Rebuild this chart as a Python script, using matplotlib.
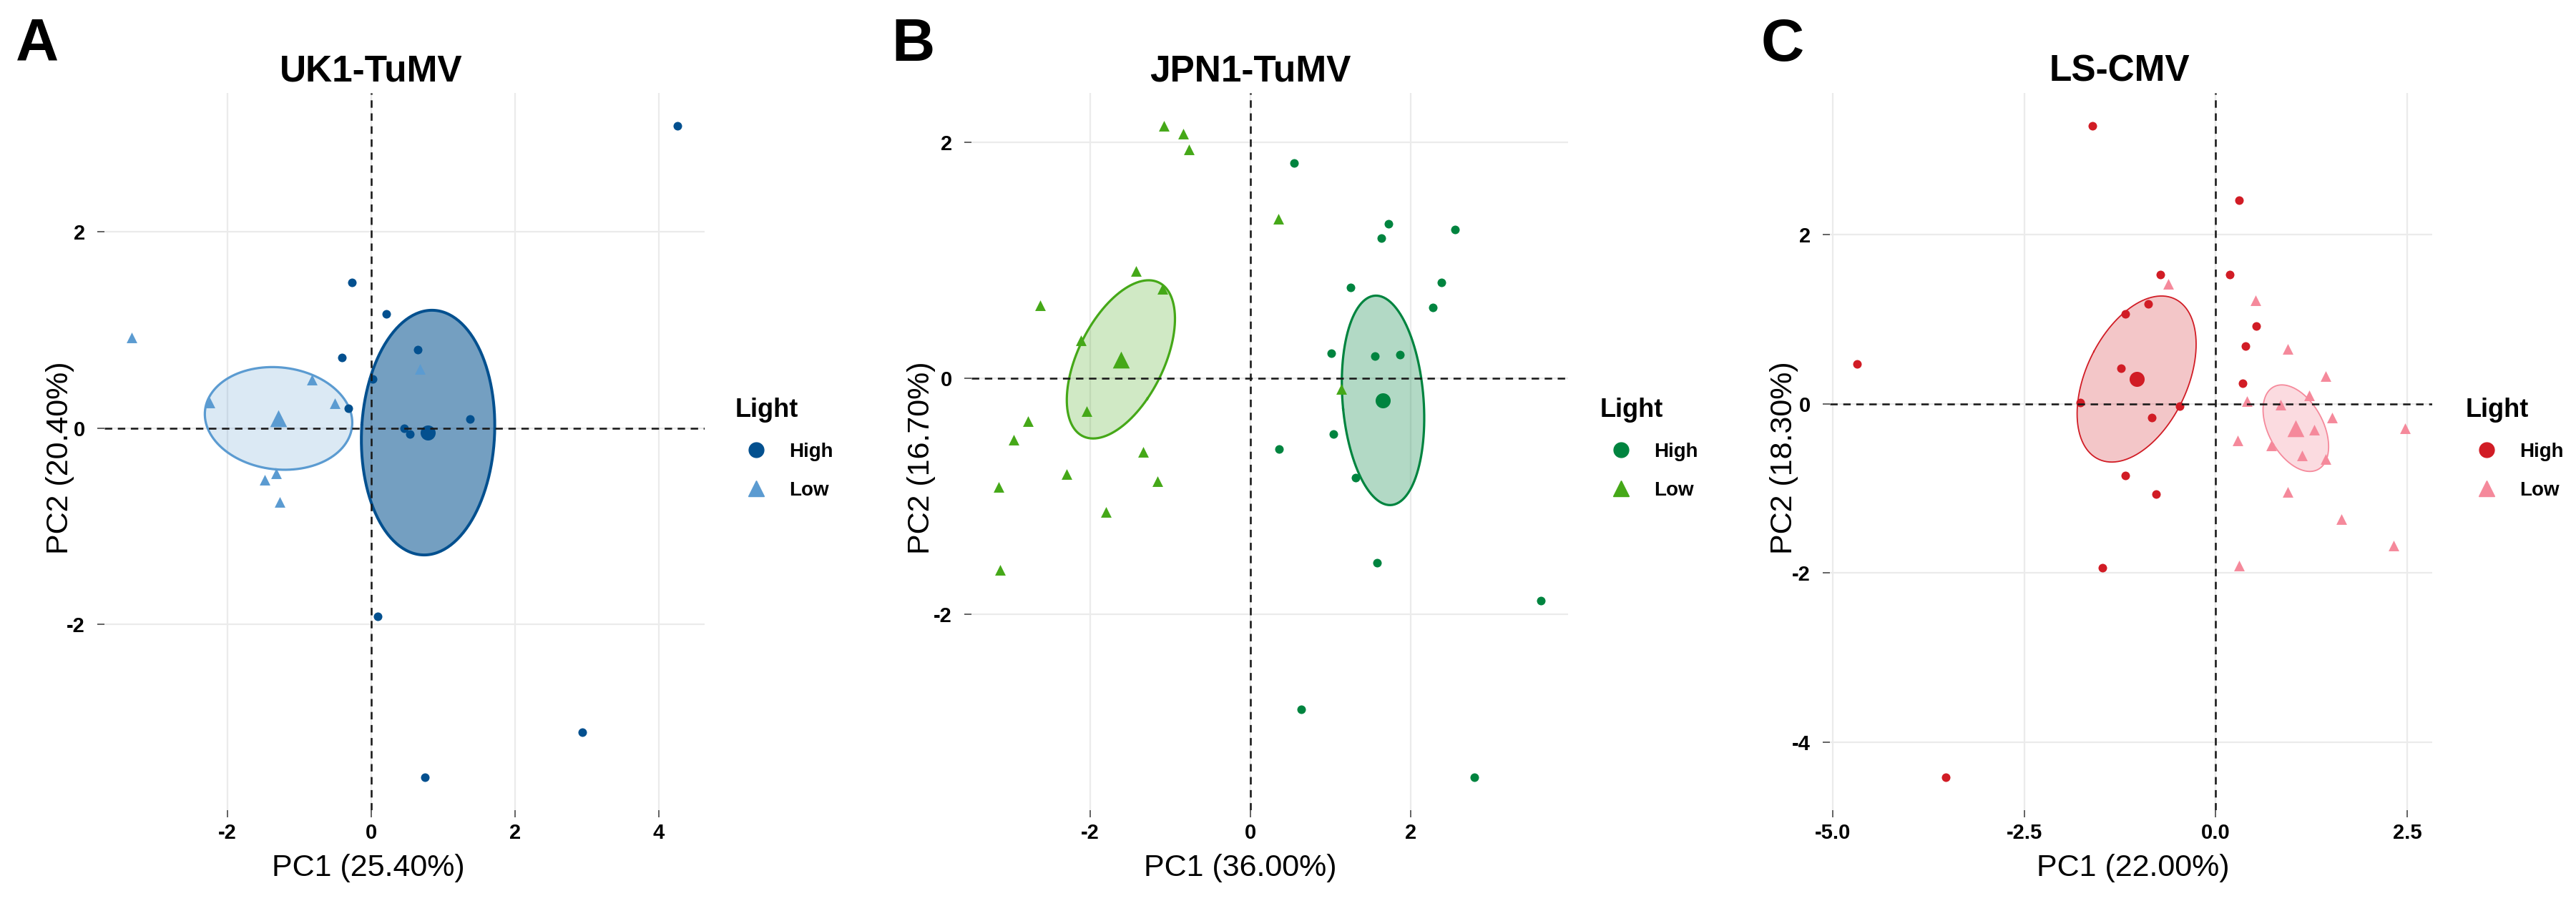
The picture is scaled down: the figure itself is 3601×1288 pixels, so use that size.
import numpy as np
import matplotlib
matplotlib.use("Agg")
import matplotlib.pyplot as plt
from matplotlib.lines import Line2D

plt.rcParams['font.family'] = ['Liberation Sans', 'DejaVu Sans']
plt.rcParams['axes.unicode_minus'] = False

# PCA scores
uk_high_x = [4.26, -0.27, 0.21, -0.41, 0.65, -0.32, 0.02, 0.46, 0.54, 1.38, 0.09, 2.94, 0.75]
uk_high_y = [3.08, 1.48, 1.16, 0.72, 0.80, 0.20, 0.50, 0.00, -0.06, 0.09, -1.92, -3.10, -3.56]
uk_low_x = [-3.33, -0.82, -2.25, -0.51, 0.68, -1.48, -1.32, -1.27]
uk_low_y = [0.92, 0.49, 0.26, 0.25, 0.60, -0.53, -0.46, -0.75]

jp_high_x = [0.54, 1.72, 1.63, 2.55, 1.25, 2.38, 2.27, 1.01, 1.55, 1.86, 1.03, 0.36, 1.31, 1.58, 3.62, 0.63, 2.79]
jp_high_y = [1.82, 1.31, 1.19, 1.26, 0.77, 0.81, 0.60, 0.21, 0.19, 0.20, -0.47, -0.60, -0.84, -1.56, -1.88, -2.80, -3.38]
jp_low_x = [-1.08, -0.84, -0.77, 0.35, -1.43, -2.62, -1.10, -2.11, 1.13, -2.04, -2.77, -2.95, -1.34, -2.29, -1.16, -3.14, -1.80, -3.12]
jp_low_y = [2.14, 2.07, 1.94, 1.35, 0.91, 0.62, 0.76, 0.32, -0.09, -0.28, -0.36, -0.52, -0.62, -0.81, -0.87, -0.92, -1.13, -1.62]

ls_high_x = [-1.61, 0.31, 0.18, -0.72, -0.88, -1.18, 0.53, 0.39, -4.68, -1.24, 0.35, -1.77, -0.47, -0.83, -1.18, -0.78, -1.48, -3.52]
ls_high_y = [3.29, 2.41, 1.53, 1.53, 1.18, 1.06, 0.92, 0.68, 0.47, 0.42, 0.24, 0.01, -0.03, -0.16, -0.85, -1.07, -1.94, -4.42]
ls_low_x = [-0.62, 0.52, 0.94, 1.44, 1.22, 0.41, 0.85, 1.52, 2.47, 1.29, 0.29, 0.73, 1.13, 1.44, 0.94, 1.64, 2.32, 0.31]
ls_low_y = [1.42, 1.22, 0.65, 0.33, 0.10, 0.03, -0.01, -0.16, -0.29, -0.31, -0.43, -0.49, -0.61, -0.65, -1.04, -1.36, -1.68, -1.91]

titles = ["UK1-TuMV", "JPN1-TuMV", "LS-CMV"]
letters = ["A", "B", "C"]
pc1_labels = ["PC1 (25.40%)", "PC1 (36.00%)", "PC1 (22.00%)"]
pc2_labels = ["PC2 (20.40%)", "PC2 (16.70%)", "PC2 (18.30%)"]
x_ticks = [[-2, 0, 2, 4], [-2, 0, 2], [-5.0, -2.5, 0.0, 2.5]]
x_ticklabels = [["-2", "0", "2", "4"], ["-2", "0", "2"], ["-5.0", "-2.5", "0.0", "2.5"]]
y_ticks = [[-2, 0, 2], [-2, 0, 2], [-4, -2, 0, 2]]
groups = ["High", "Low"]

W, H = 3601, 1288
fig = plt.figure(figsize=(W / 100, H / 100), dpi=100)


def px(v):
    return v * 0.72


def conf_ellipse(x, y, n=240):
    # 95% confidence ellipse of the group mean
    x = np.asarray(x); y = np.asarray(y)
    cov = np.cov(x, y) / len(x)
    vals, vecs = np.linalg.eigh(cov)
    t = np.linspace(0, 2 * np.pi, n)
    circ = np.vstack([np.cos(t), np.sin(t)]) * np.sqrt(vals * 5.991)[:, None]
    pts = vecs @ circ
    return pts[0] + x.mean(), pts[1] + y.mean()


panels = [
    dict(data=[(uk_high_x, uk_high_y), (uk_low_x, uk_low_y)],
         colors=['#03508f', '#5b9bd1'], alphas=[0.55, 0.22], ew=[4.0, 3.2],
         rect=(146, 130, 985, 1133), title_x=519, letter_x=22, xlab_x=515, ylab_x=84, leg_x=1028),
    dict(data=[(jp_high_x, jp_high_y), (jp_low_x, jp_low_y)],
         colors=['#00843f', '#45a818'], alphas=[0.30, 0.25], ew=[3.2, 3.2],
         rect=(1358, 130, 2192, 1133), title_x=1748, letter_x=1246, xlab_x=1734, ylab_x=1288, leg_x=2237),
    dict(data=[(ls_high_x, ls_high_y), (ls_low_x, ls_low_y)],
         colors=['#d11c25', '#f5899b'], alphas=[0.25, 0.30], ew=[1.8, 1.8],
         rect=(2558, 130, 3400, 1133), title_x=2963, letter_x=2462, xlab_x=2982, ylab_x=2494, leg_x=3447),
]

for i, p in enumerate(panels):
    l, t, r, b = p['rect']
    ax = fig.add_axes([l / W, 1 - b / H, (r - l) / W, (b - t) / H])
    for s in ax.spines.values():
        s.set_visible(False)

    allx, ally = [], []
    for g, ((gx, gy), c, a, ew) in enumerate(zip(p['data'], p['colors'], p['alphas'], p['ew'])):
        ex, ey = conf_ellipse(gx, gy)
        ax.fill(ex, ey, color=c, alpha=a, lw=0, zorder=2)
        ax.plot(ex, ey, color=c, lw=px(ew), zorder=3)
        mk = 'o' if g == 0 else '^'
        ax.scatter(gx, gy, s=75 if g == 0 else 115, marker=mk, color=c, lw=0, zorder=4)
        ax.scatter([np.mean(gx)], [np.mean(gy)], s=230 if g == 0 else 290, marker=mk, color=c, lw=0, zorder=5)
        allx += list(gx) + list(ex)
        ally += list(gy) + list(ey)

    x0, x1 = min(allx), max(allx)
    y0, y1 = min(ally), max(ally)

    xt = np.array(x_ticks[i], dtype=float)
    yt = np.array(y_ticks[i], dtype=float)
    dx = xt[1] - xt[0]
    dy = yt[1] - yt[0]
    ax.set_xticks(xt)
    ax.set_xticklabels(x_ticklabels[i])
    ax.set_yticks(yt)
    ax.set_yticklabels([str(int(v)) for v in yt])
    ax.set_xticks(np.arange(xt[0] - 2.5 * dx, xt[-1] + 2.5 * dx, dx) + dx / 2, minor=True)
    ax.set_yticks(np.arange(yt[0] - 2.5 * dy, yt[-1] + 2.5 * dy, dy) + dy / 2, minor=True)
    ax.set_xlim(x0 - 0.05 * (x1 - x0), x1 + 0.05 * (x1 - x0))
    ax.set_ylim(y0 - 0.05 * (y1 - y0), y1 + 0.05 * (y1 - y0))
    ax.grid(True, which='major', color='#ebebeb', lw=px(2.2), zorder=0)
    ax.grid(True, which='minor', color='#ebebeb', lw=px(1.6), zorder=0)
    ax.set_axisbelow(True)
    ax.tick_params(which='major', length=px(10), width=px(2), color='#666666',
                   labelsize=21, labelcolor='black')
    ax.tick_params(axis='x', which='major', pad=px(8))
    ax.tick_params(axis='y', which='major', pad=px(17))
    ax.tick_params(which='minor', length=0)
    for lab in ax.get_xticklabels() + ax.get_yticklabels():
        lab.set_fontweight('bold')

    ax.axhline(0, color='#1a1a1a', lw=px(2.6), ls=(0, (4, 3)), zorder=6)
    ax.axvline(0, color='#1a1a1a', lw=px(2.6), ls=(0, (4, 3)), zorder=6)

    fig.text(p['title_x'] / W, 1 - 113 / H, titles[i], ha='center', va='baseline',
             fontsize=37, fontweight='bold')
    fig.text(p['letter_x'] / W, 1 - 85 / H, letters[i], ha='left', va='baseline',
             fontsize=60, fontweight='bold')
    fig.text(p['xlab_x'] / W, 1 - 1225 / H, pc1_labels[i], ha='center', va='baseline', fontsize=31)
    fig.text(p['ylab_x'] / W, 1 - 640 / H, pc2_labels[i], ha='center', va='center',
             rotation=90, fontsize=31)

    handles = [Line2D([], [], marker='o', ls='', color=p['colors'][0], markersize=15),
               Line2D([], [], marker='^', ls='', color=p['colors'][1], markersize=16)]
    ax.legend(handles, groups, title='Light', loc='upper left',
              bbox_to_anchor=(p['leg_x'] / W, 1 - 556 / H), bbox_transform=fig.transFigure,
              frameon=False, borderpad=0, borderaxespad=0, handlelength=2.1, handletextpad=0.6,
              labelspacing=1.0, prop={'weight': 'bold', 'size': 20},
              title_fontproperties={'weight': 'bold', 'size': 26}, alignment='left')

fig.savefig("out.png", dpi=100, facecolor='white')
